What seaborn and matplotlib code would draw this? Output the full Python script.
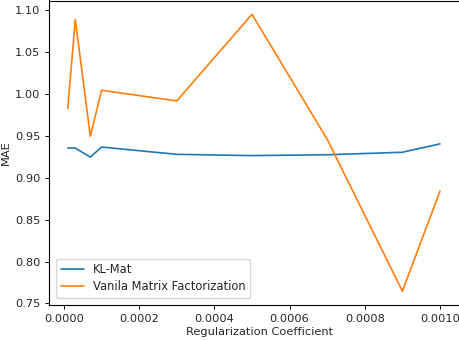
import seaborn as sns
import matplotlib.pyplot as plt
import pandas as pd

reg_coef = [0.00001, 0.00003, 0.00007, 0.0001, 0.0003, 0.0005, 0.0007, 0.0009, 0.001]
kl_mat = [0.9355, 0.9355, 0.9247, 0.9367, 0.9280, 0.9265, 0.9275, 0.9305, 0.9405]
vanilla_mf = [0.9827, 1.0889, 0.9496, 1.0045, 0.9918, 1.0952, 0.9460, 0.7646, 0.8840]

df = pd.DataFrame({"coef": reg_coef, "KL-Mat": kl_mat, "Vanila Matrix Factorization": vanilla_mf})

sns.set_style("ticks")
plt.rcParams['font.family'] = ['DejaVu Sans']
fs = 8.2

fig = plt.figure(figsize=(4.6, 3.4), dpi=100)
# axes run off the right edge, like the cropped original
ax = fig.add_axes([49 / 460, 35 / 340, 421 / 460, 304.5 / 340])

sns.lineplot(data=df, x="coef", y="KL-Mat", ax=ax, color="#1f77b4", linewidth=1.2, label="KL-Mat")
sns.lineplot(data=df, x="coef", y="Vanila Matrix Factorization", ax=ax, color="#ff7f0e",
             linewidth=1.2, label="Vanila Matrix Factorization")

ax.set_xlim(-0.0000399, 0.0010798)
ax.set_ylim(0.7481, 1.1117)
ax.set_xticks([0, 0.0002, 0.0004, 0.0006, 0.0008, 0.0010])
ax.set_xticklabels(["0.0000", "0.0002", "0.0004", "0.0006", "0.0008", "0.0010"])
ax.set_yticks([0.75, 0.80, 0.85, 0.90, 0.95, 1.00, 1.05, 1.10])
ax.tick_params(labelsize=fs, length=2.7, width=0.7, color="black")
for s in ax.spines.values():
    s.set_linewidth(0.8)
    s.set_color("black")
ax.spines["right"].set_visible(False)

ax.set_xlabel("Regularization Coefficient", fontsize=fs, labelpad=2.5)
ax.set_ylabel("MAE", fontsize=fs, labelpad=3)
ax.legend(loc="lower left", fontsize=8.3, frameon=True, labelspacing=0.35, borderaxespad=0.6)

fig.savefig("out.png", dpi=100)
